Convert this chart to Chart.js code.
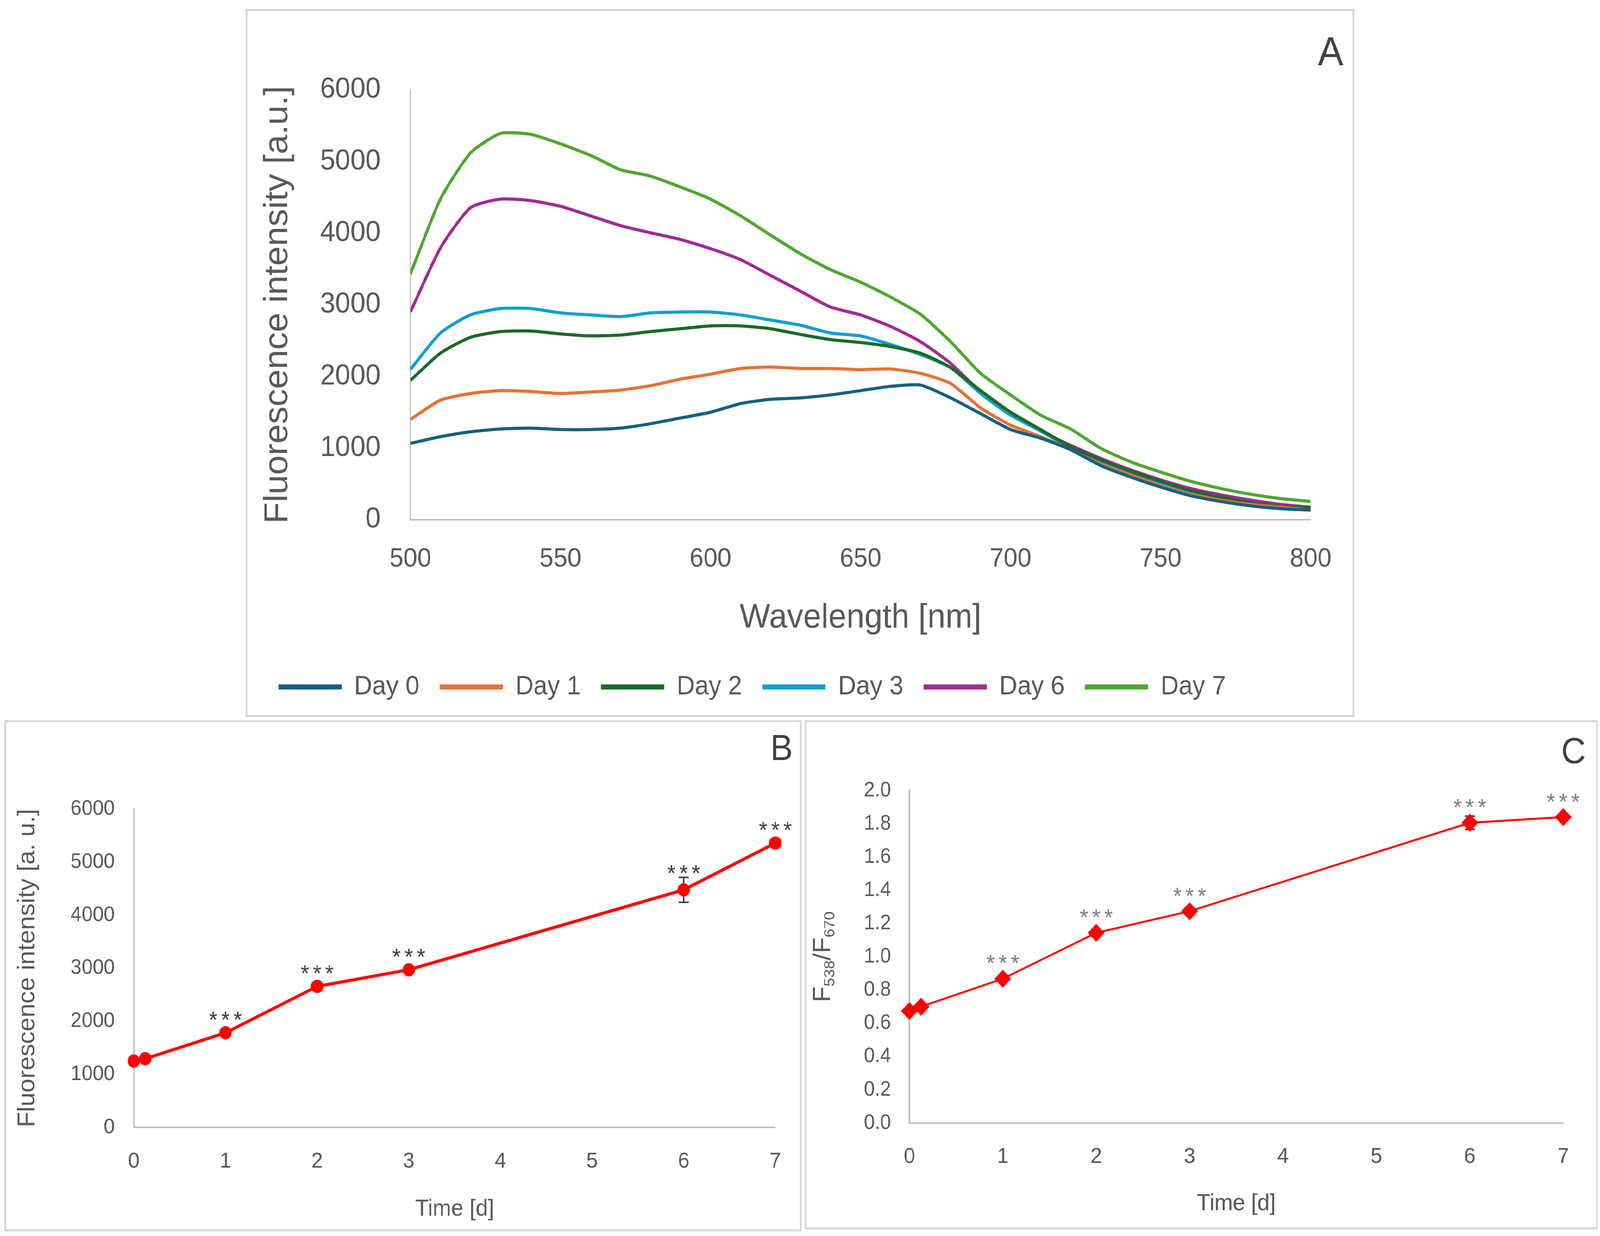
<!DOCTYPE html>
<html>
<head>
<meta charset="utf-8">
<script src="https://cdn.jsdelivr.net/npm/chart.js@4.4.0/dist/chart.umd.min.js"></script>
<style>
  html, body { margin: 0; background: #fff; overflow: hidden; height: 100%; }
  #page { position: absolute; left: 0; top: 0; width: 4351px; height: 3163px; background: #fff; transform-origin: 0 0; }
  .box { position: absolute; box-sizing: border-box; border: 5px solid #d6d6d6; }
  .wrap { position: absolute; }
</style>
</head>
<body>
<div id="page">
  <div class="box" style="left:668px;top:23px;width:3015px;height:1812px"></div>
  <div class="box" style="left:12px;top:1843px;width:2168px;height:1308px"></div>
  <div class="box" style="left:2188px;top:1843px;width:2157px;height:1303px"></div>

  <div class="wrap" style="left:670px;top:25px;width:3011px;height:1808px"><canvas id="chartA"></canvas></div>
  <div class="wrap" style="left:14px;top:1845px;width:2164px;height:1304px"><canvas id="chartB"></canvas></div>
  <div class="wrap" style="left:2190px;top:1845px;width:2153px;height:1299px"><canvas id="chartC"></canvas></div>
</div>

<script>
// ---- panel A : emission spectra ----
const wavelengths = [500,510,520,530,540,550,560,570,580,590,600,610,620,630,640,650,
                     660,670,680,690,700,710,720,730,740,750,760,770,780,790,800];
const day0 = [1066,1159,1227,1267,1279,1259,1259,1279,1340,1420,1500,1621,1681,1701,1742,1802,
              1862,1880,1701,1480,1259,1139,978,757,596,456,335,255,194,154,134];
const day1 = [1400,1669,1762,1802,1790,1762,1782,1810,1870,1963,2031,2111,2131,2111,2111,2095,
              2104,2043,1902,1561,1320,1159,978,777,624,476,355,275,214,174,134];
const day2 = [1943,2325,2546,2626,2634,2594,2566,2578,2626,2666,2706,2706,2666,2586,2514,2474,
              2418,2325,2124,1802,1500,1259,1018,837,677,536,407,315,235,186,166];
const day3 = [2096,2606,2859,2948,2948,2887,2859,2835,2887,2899,2899,2859,2787,2715,2606,2566,
              2446,2305,2124,1762,1460,1239,998,817,657,516,375,295,222,174,154];
const day6 = [2900,3792,4355,4475,4455,4375,4242,4105,4005,3912,3784,3631,3410,3189,2968,2859,
              2698,2485,2184,1782,1480,1239,1038,857,697,556,435,347,275,214,174];
const day7 = [3430,4475,5118,5392,5380,5247,5086,4885,4797,4644,4475,4242,3973,3711,3490,3317,
              3108,2867,2485,2043,1742,1460,1267,998,809,665,536,436,355,295,255];
const seriesNames = ['Day 0','Day 1','Day 2','Day 3','Day 6','Day 7'];
const seriesColors = ['#156082','#E97132','#196B24','#0F9ED5','#A02B93','#4EA72E'];

// ---- panels B and C : time course ----
const days = [0, 0.125, 1, 2, 3, 6, 7];
const intensity = [1250, 1294, 1781, 2656, 2969, 4475, 5356];
const intensityErr = [40, 40, 60, 70, 60, 235, 70];
const ratio = [0.674, 0.70, 0.868, 1.144, 1.274, 1.806, 1.84];
const ratioErr = [0.01, 0.01, 0.015, 0.02, 0.02, 0.04, 0.015];
const stars = ['', '', '***', '***', '***', '***', '***'];

// the layout is drawn on a 4351 x 3163 page; stretch it onto the real viewport
const sx = window.innerWidth / 4351;
const sy = window.innerHeight / 3163;
document.getElementById('page').style.transform = 'scale(' + sx + ',' + sy + ')';

const FONT = "'Liberation Sans', Arial, sans-serif";
const GREY = '#595959';
Chart.defaults.font.family = FONT;
Chart.defaults.color = GREY;
Chart.defaults.animation = false;

function xy(xs, ys) {
  return xs.map(function (v, i) { return { x: v, y: ys[i] }; });
}
function plain(v) { return String(v); }

// error bars, significance stars, panel letter, custom y title
const extras = {
  id: 'extras',
  beforeDatasetsDraw(chart, args, o) {
    if (!o.err) return;
    const ctx = chart.ctx, x = chart.scales.x, y = chart.scales.y;
    ctx.save();
    ctx.strokeStyle = '#404040';
    ctx.lineWidth = 4;
    o.xs.forEach(function (t, i) {
      const px = x.getPixelForValue(t);
      const hi = y.getPixelForValue(o.ys[i] + o.err[i]);
      const lo = y.getPixelForValue(o.ys[i] - o.err[i]);
      ctx.beginPath();
      ctx.moveTo(px, hi); ctx.lineTo(px, lo);
      ctx.moveTo(px - 14, hi); ctx.lineTo(px + 14, hi);
      ctx.moveTo(px - 14, lo); ctx.lineTo(px + 14, lo);
      ctx.stroke();
    });
    ctx.restore();
  },
  afterDatasetsDraw(chart, args, o) {
    const ctx = chart.ctx;
    ctx.save();
    if (o.stars) {
      const x = chart.scales.x, y = chart.scales.y;
      ctx.fillStyle = o.starColor;
      ctx.font = o.starSize + 'px ' + FONT;
      ctx.textAlign = 'center';
      ctx.textBaseline = 'alphabetic';
      ctx.letterSpacing = '10px';
      o.xs.forEach(function (t, i) {
        if (!o.stars[i]) return;
        const px = x.getPixelForValue(t);
        const py = y.getPixelForValue(o.ys[i]);
        const top = y.getPixelForValue(o.ys[i] + o.err[i]);
        const cy = Math.min(py - o.starGap, top - 25);
        ctx.fillText(o.stars[i], px + 5, cy + 0.58 * o.starSize);
      });
      ctx.letterSpacing = '0px';
    }
    if (o.letter) {
      ctx.fillStyle = '#404040';
      ctx.font = o.letter.size + 'px ' + FONT;
      ctx.textAlign = 'right';
      ctx.textBaseline = 'alphabetic';
      ctx.fillText(o.letter.text, o.letter.x, o.letter.y);
    }
    if (o.yTitle) {
      // F538/F670 with subscripts, rotated
      const parts = o.yTitle.parts;
      let total = 0;
      parts.forEach(function (p) { ctx.font = p[1] + 'px ' + FONT; total += ctx.measureText(p[0]).width; });
      ctx.translate(o.yTitle.x, (chart.chartArea.top + chart.chartArea.bottom) / 2);
      ctx.rotate(-Math.PI / 2);
      ctx.fillStyle = GREY;
      ctx.textAlign = 'left';
      let cx = -total / 2;
      parts.forEach(function (p) {
        ctx.font = p[1] + 'px ' + FONT;
        ctx.fillText(p[0], cx, o.yTitle.base + p[2]);
        cx += ctx.measureText(p[0]).width;
      });
    }
    ctx.restore();
  }
};

function axisBorder() {
  return { display: true, color: '#BFBFBF', width: 4 };
}

// ---------- A ----------
new Chart('chartA', {
  type: 'line',
  data: {
    datasets: [day0, day1, day2, day3, day6, day7].map(function (s, i) {
      return {
        label: seriesNames[i],
        data: xy(wavelengths, s),
        borderColor: seriesColors[i],
        backgroundColor: seriesColors[i],
        borderWidth: 8,
        pointRadius: 0,
        tension: 0.2
      };
    })
  },
  options: {
    responsive: true,
    maintainAspectRatio: false,
    layout: { padding: { left: 32, top: 205, right: 106, bottom: 31 } },
    scales: {
      x: {
        type: 'linear', min: 500, max: 800,
        ticks: { stepSize: 50, padding: 60, font: { size: 68 }, color: GREY, callback: plain },
        grid: { display: false, drawTicks: false },
        border: axisBorder(),
        title: { display: true, text: 'Wavelength [nm]', font: { size: 88 }, color: GREY, padding: { top: 0, bottom: 34 } },
        afterFit: function (s) { s.height = 339; }
      },
      y: {
        min: 0, max: 6000,
        ticks: { stepSize: 1000, padding: 81, font: { size: 74 }, color: GREY, callback: plain },
        grid: { display: false, drawTicks: false },
        border: axisBorder(),
        title: { display: true, text: 'Fluorescence intensity [a.u.]', font: { size: 90 }, color: GREY, padding: 0 },
        afterFit: function (s) { s.width = 414; }
      }
    },
    plugins: {
      tooltip: { enabled: false },
      legend: {
        position: 'bottom',
        align: 'start',
        labels: {
          boxWidth: 172, boxHeight: 13, padding: 55,
          font: { size: 68 }, color: GREY,
          generateLabels: function (chart) {
            return Chart.defaults.plugins.legend.labels.generateLabels(chart).map(function (l) {
              l.lineWidth = 0;
              return l;
            });
          }
        }
      },
      extras: { letter: { text: 'A', x: 2983, y: 142, size: 104 } }
    }
  },
  plugins: [extras]
});

// ---------- B ----------
new Chart('chartB', {
  type: 'line',
  data: {
    datasets: [{
      data: xy(days, intensity),
      borderColor: '#FF0000',
      backgroundColor: '#FF0000',
      borderWidth: 8,
      pointRadius: 17,
      pointBorderWidth: 0,
      pointBackgroundColor: '#FF0000',
      clip: false
    }]
  },
  options: {
    responsive: true,
    maintainAspectRatio: false,
    layout: { padding: { left: 23, top: 225, right: 69, bottom: 19 } },
    scales: {
      x: {
        type: 'linear', min: 0, max: 7,
        ticks: { stepSize: 1, padding: 54, font: { size: 56 }, color: GREY, callback: plain },
        grid: { display: false, drawTicks: false },
        border: axisBorder(),
        title: { display: true, text: 'Time [d]', font: { size: 60 }, color: GREY, padding: 0 },
        afterFit: function (s) { s.height = 245; }
      },
      y: {
        min: 0, max: 6000,
        ticks: { stepSize: 1000, padding: 52, font: { size: 54 }, color: GREY, callback: plain },
        grid: { display: false, drawTicks: false },
        border: axisBorder(),
        title: { display: true, text: 'Fluorescence intensity [a. u.]', font: { size: 64 }, color: GREY, padding: 0 },
        afterFit: function (s) { s.width = 327; }
      }
    },
    plugins: {
      tooltip: { enabled: false },
      legend: { display: false },
      extras: {
        xs: days, ys: intensity, err: intensityErr, stars: stars,
        starColor: '#404040', starSize: 60, starGap: 48,
        letter: { text: 'B', x: 2142, y: 100, size: 92 }
      }
    }
  },
  plugins: [extras]
});

// ---------- C ----------
new Chart('chartC', {
  type: 'line',
  data: {
    datasets: [{
      data: xy(days, ratio),
      borderColor: '#FF0000',
      backgroundColor: '#FF0000',
      borderWidth: 5,
      pointStyle: 'rectRot',
      pointRadius: 23,
      pointBorderWidth: 0,
      pointBackgroundColor: '#FF0000',
      clip: false
    }]
  },
  options: {
    responsive: true,
    maintainAspectRatio: false,
    layout: { padding: { left: 0, top: 178, right: 92, bottom: 28 } },
    scales: {
      x: {
        type: 'linear', min: 0, max: 7,
        ticks: { stepSize: 1, padding: 53, font: { size: 56 }, color: GREY, callback: plain },
        grid: { display: false, drawTicks: false },
        border: axisBorder(),
        title: { display: true, text: 'Time [d]', font: { size: 60 }, color: GREY, padding: 0 },
        afterFit: function (s) { s.height = 242; }
      },
      y: {
        min: 0, max: 2,
        ticks: {
          stepSize: 0.2, padding: 50, font: { size: 53 }, color: GREY,
          callback: function (v) { return Number(v).toFixed(1); }
        },
        grid: { display: false, drawTicks: false },
        border: axisBorder(),
        afterFit: function (s) { s.width = 283; }
      }
    },
    plugins: {
      tooltip: { enabled: false },
      legend: { display: false },
      extras: {
        xs: days, ys: ratio, err: ratioErr, stars: stars,
        starColor: '#7F7F7F', starSize: 60, starGap: 54,
        letter: { text: 'C', x: 2122, y: 108, size: 92 },
        yTitle: { x: 58, base: 9, parts: [['F', 66, 0], ['538', 40, 12], ['/F', 66, 0], ['670', 40, 12]] }
      }
    }
  },
  plugins: [extras]
});
</script>
</body>
</html>
